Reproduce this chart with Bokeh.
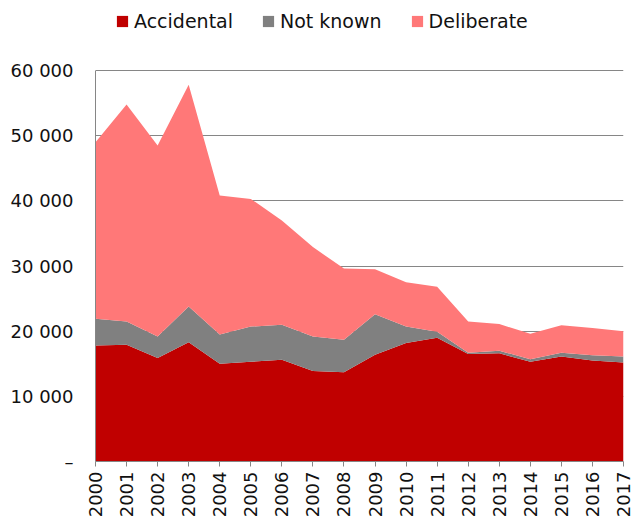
import math
from bokeh.plotting import figure
from bokeh.models import ColumnDataSource, Range1d, FixedTicker, Legend
from bokeh.embed import file_html
from bokeh.resources import INLINE

years = list(range(2000, 2018))
accidental = [17800, 17900, 15900, 18300, 15000, 15300, 15600, 13900, 13700,
              16400, 18200, 19000, 16500, 16600, 15300, 16100, 15500, 15200]
not_known = [4100, 3600, 3300, 5500, 4500, 5400, 5400, 5300, 5000,
             6200, 2500, 900, 200, 400, 400, 600, 800, 900]
deliberate = [27100, 33300, 29300, 34000, 21300, 19600, 16000, 13700, 10900,
              6900, 6800, 6900, 4800, 4100, 3900, 4200, 4200, 3900]
series_names = ["Accidental", "Not known", "Deliberate"]
series_colors = ["#C00000", "#808080", "#FF7878"]
y_ticks = [0, 10000, 20000, 30000, 40000, 50000, 60000]
y_tick_labels = ["–", "10 000", "20 000", "30 000", "40 000", "50 000", "60 000"]

source = ColumnDataSource(dict(year=years, acc=accidental, nk=not_known, dl=deliberate))

FONT = "DejaVu Sans"
PLOT_H = 391   # pixels for 0..60000
TOP_PAD = 70   # extra pixels above 60000 (legend room)
Y_MAX = y_ticks[-1]
y_end = Y_MAX * (PLOT_H + TOP_PAD) / PLOT_H

p = figure(frame_width=528, frame_height=PLOT_H + TOP_PAD, output_backend="svg",
           toolbar_location=None, x_range=Range1d(years[0], years[-1]),
           y_range=Range1d(0, y_end),
           min_border_left=95, min_border_top=0, min_border_right=12, min_border_bottom=5)
p.outline_line_color = None
p.background_fill_color = "white"
p.border_fill_color = "white"

rs = p.varea_stack(stackers=["acc", "nk", "dl"], x="year", color=series_colors, source=source)

p.xgrid.grid_line_color = None
p.ygrid.grid_line_color = "#868686"
p.ygrid.grid_line_width = 1
p.ygrid.ticker = FixedTicker(ticks=y_ticks)
p.ygrid.level = "underlay"

yax = p.yaxis[0]
yax.ticker = FixedTicker(ticks=y_ticks)
yax.bounds = (0, Y_MAX)
yax.major_label_overrides = {t: l for t, l in zip(y_ticks, y_tick_labels)}
yax.major_tick_line_color = None
yax.minor_tick_line_color = None
yax.major_tick_out = 0
yax.major_tick_in = 0
yax.axis_line_color = "#868686"
yax.major_label_standoff = 22
yax.major_label_text_font = FONT
yax.major_label_text_font_size = "18px"
yax.major_label_text_color = "#111111"

xax = p.xaxis[0]
xax.ticker = FixedTicker(ticks=years)
xax.major_label_overrides = {y: str(y) for y in years}
xax.major_label_orientation = math.pi / 2
xax.major_tick_line_color = "#868686"
xax.major_tick_out = 5
xax.major_tick_in = 0
xax.minor_tick_line_color = None
xax.axis_line_color = "#868686"
xax.major_label_standoff = 5
xax.major_label_text_font = FONT
xax.major_label_text_font_size = "18px"
xax.major_label_text_color = "#111111"

legend = Legend(items=[(n, [r]) for n, r in zip(series_names, rs)],
                orientation="horizontal", location=(20, PLOT_H + TOP_PAD - 32),
                glyph_width=14, glyph_height=14, label_standoff=5, spacing=28,
                padding=0, margin=0, border_line_color=None, background_fill_alpha=0,
                label_text_font=FONT, label_text_font_size="19px",
                label_text_color="#111111")
p.add_layout(legend, "center")

open("out.html", "w").write(file_html(p, INLINE))
